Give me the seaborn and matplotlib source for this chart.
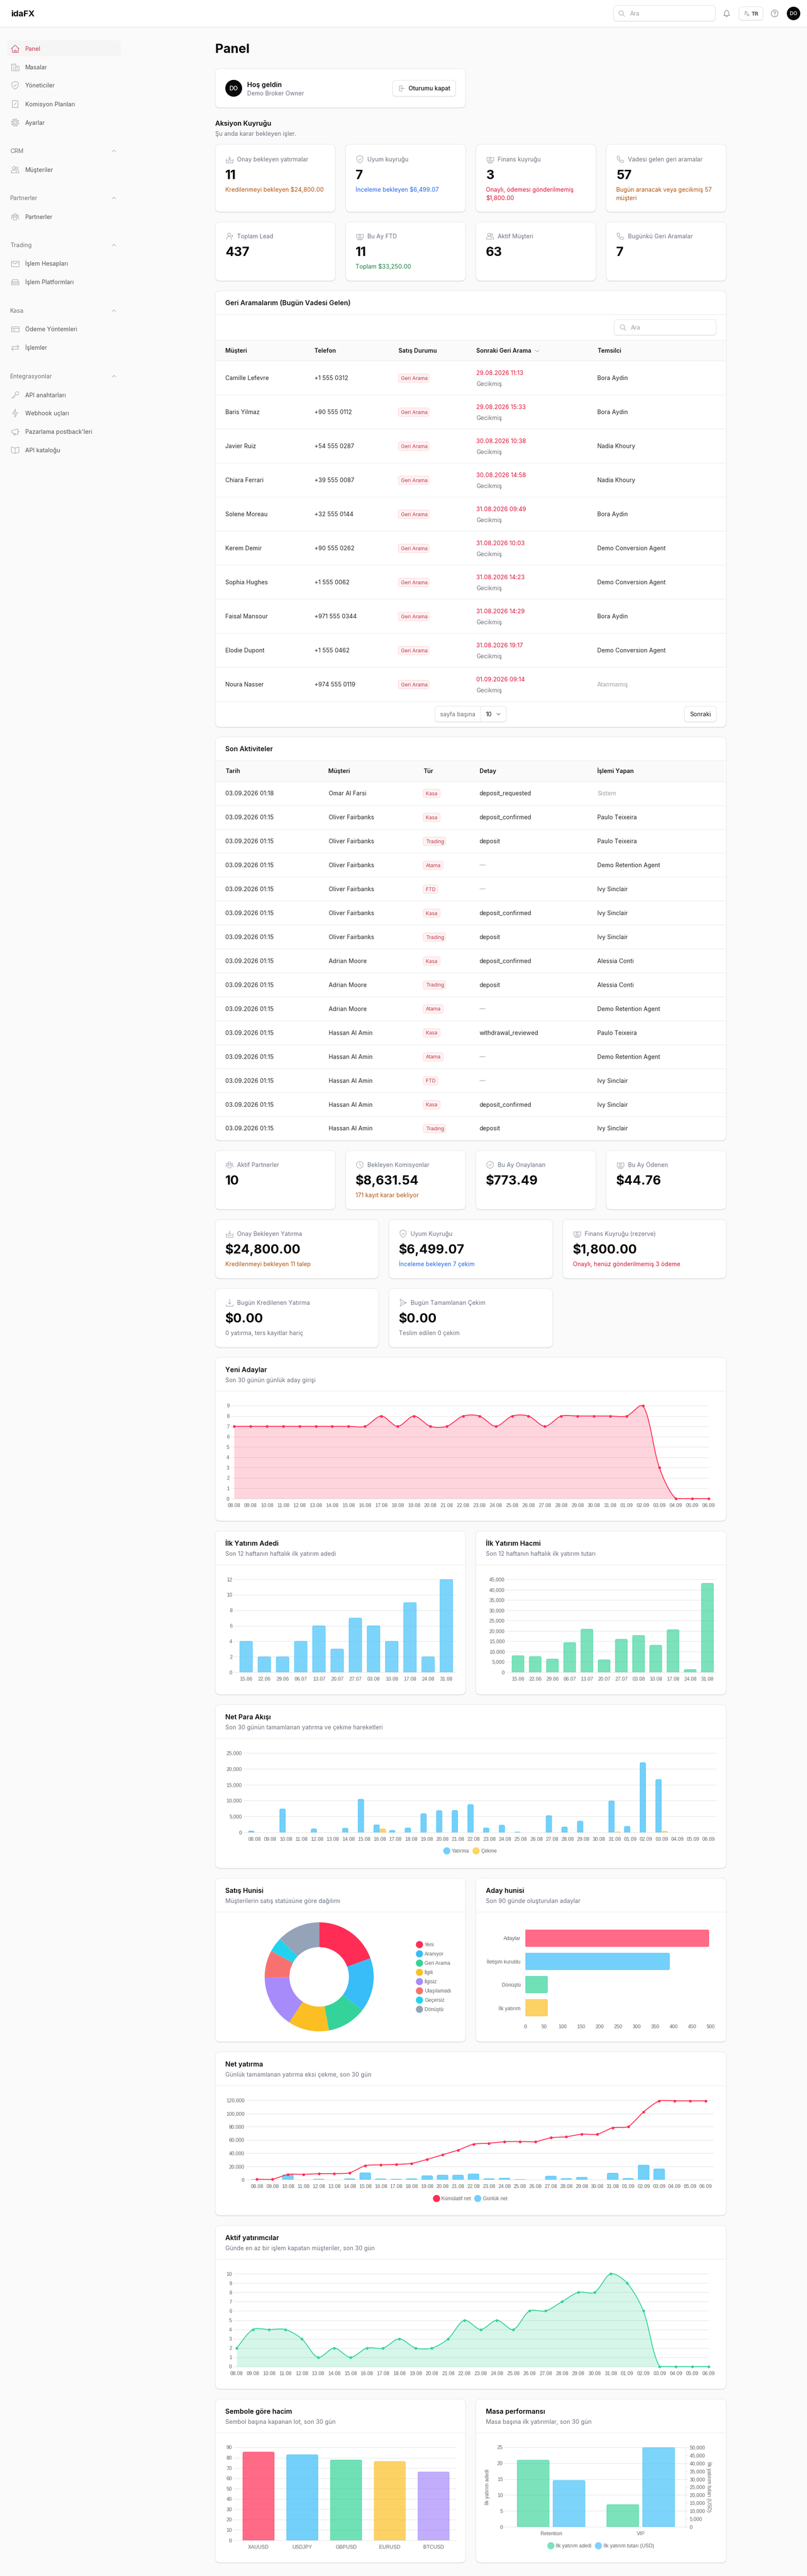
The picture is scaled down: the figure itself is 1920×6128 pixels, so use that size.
import numpy as np
import pandas as pd
import matplotlib
matplotlib.use("Agg")
import matplotlib.pyplot as plt
from matplotlib.patches import FancyBboxPatch, Circle, PathPatch, Rectangle
from matplotlib.path import Path
from matplotlib.ticker import FuncFormatter
import seaborn as sns

# ---------------- DATA ----------------
nav_groups = [
    (None, [("Panel", "home", 116), ("Masalar", "building", 159.5), ("Yöneticiler", "shield", 203),
            ("Komisyon Planları", "receipt", 248), ("Ayarlar", "gear", 291.5)]),
    (("CRM", 359), [("Müşteriler", "users", 403.6)]),
    (("Partnerler", 471), [("Partnerler", "partners", 515.6)]),
    (("Trading", 583), [("İşlem Hesapları", "wallet", 627), ("İşlem Platformları", "server", 671)]),
    (("Kasa", 739), [("Ödeme Yöntemleri", "card", 783), ("İşlemler", "arrows", 827)]),
    (("Entegrasyonlar", 895), [("API anahtarları", "key", 939.5), ("Webhook uçları", "bolt", 983),
                               ("Pazarlama postback'leri", "mega", 1027), ("API kataloğu", "book", 1071)]),
]
action_titles = ["Onay bekleyen yatırmalar", "Uyum kuyruğu", "Finans kuyruğu", "Vadesi gelen geri aramalar"]
action_values = ["11", "7", "3", "57"]
action_notes = [["Kredilenmeyi bekleyen $24,800.00"], ["İnceleme bekleyen $6,499.07"],
                ["Onaylı, ödemesi gönderilmemiş", "$1,800.00"], ["Bugün aranacak veya gecikmiş 57", "müşteri"]]
summary_titles = ["Toplam Lead", "Bu Ay FTD", "Aktif Müşteri", "Bugünkü Geri Aramalar"]
summary_values = ["437", "11", "63", "7"]
summary_notes = ["", "Toplam $33,250.00", "", ""]

t1_names = ["Camille Lefevre", "Baris Yilmaz", "Javier Ruiz", "Chiara Ferrari", "Solene Moreau", "Kerem Demir",
            "Sophia Hughes", "Faisal Mansour", "Elodie Dupont", "Noura Nasser"]
t1_phones = ["+1 555 0312", "+90 555 0112", "+54 555 0287", "+39 555 0087", "+32 555 0144", "+90 555 0262",
             "+1 555 0062", "+971 555 0344", "+1 555 0462", "+974 555 0119"]
t1_dates = ["29.08.2026 11:13", "29.08.2026 15:33", "30.08.2026 10:38", "30.08.2026 14:58", "31.08.2026 09:49",
            "31.08.2026 10:03", "31.08.2026 14:23", "31.08.2026 14:29", "31.08.2026 19:17", "01.09.2026 09:14"]
t1_reps = ["Bora Aydin", "Bora Aydin", "Nadia Khoury", "Nadia Khoury", "Bora Aydin", "Demo Conversion Agent",
           "Demo Conversion Agent", "Bora Aydin", "Demo Conversion Agent", "Atanmamış"]

t2_dates = ["03.09.2026 01:18"] + ["03.09.2026 01:15"] * 14
t2_names = ["Omar Al Farsi"] + ["Oliver Fairbanks"] * 6 + ["Adrian Moore"] * 3 + ["Hassan Al Amin"] * 5
t2_types = ["Kasa", "Kasa", "Trading", "Atama", "FTD", "Kasa", "Trading", "Kasa", "Trading", "Atama", "Kasa", "Atama",
            "FTD", "Kasa", "Trading"]
t2_details = ["deposit_requested", "deposit_confirmed", "deposit", "—", "—", "deposit_confirmed", "deposit",
              "deposit_confirmed", "deposit", "—", "withdrawal_reviewed", "—", "—", "deposit_confirmed", "deposit"]
t2_actors = ["Sistem", "Paulo Teixeira", "Paulo Teixeira", "Demo Retention Agent", "Ivy Sinclair", "Ivy Sinclair",
             "Ivy Sinclair", "Alessia Conti", "Alessia Conti", "Demo Retention Agent", "Paulo Teixeira",
             "Demo Retention Agent", "Ivy Sinclair", "Ivy Sinclair", "Ivy Sinclair"]

partner_titles = ["Aktif Partnerler", "Bekleyen Komisyonlar", "Bu Ay Onaylanan", "Bu Ay Ödenen"]
partner_values = ["10", "$8,631.54", "$773.49", "$44.76"]
finance_titles = ["Onay Bekleyen Yatırma", "Uyum Kuyruğu", "Finans Kuyruğu (rezerve)"]
finance_values = ["$24,800.00", "$6,499.07", "$1,800.00"]
finance_notes = ["Kredilenmeyi bekleyen 11 talep", "İnceleme bekleyen 7 çekim", "Onaylı, henüz gönderilmemiş 3 ödeme"]
today_titles = ["Bugün Kredilenen Yatırma", "Bugün Tamamlanan Çekim"]
today_values = ["$0.00", "$0.00"]
today_notes = ["0 yatırma, ters kayıtlar hariç", "Teslim edilen 0 çekim"]

days_a = ["08.08", "09.08", "10.08", "11.08", "12.08", "13.08", "14.08", "15.08", "16.08", "17.08", "18.08", "19.08",
          "20.08", "21.08", "22.08", "23.08", "24.08", "25.08", "26.08", "27.08", "28.08", "29.08", "30.08", "31.08",
          "01.09", "02.09", "03.09", "04.09", "05.09", "06.09"]
new_leads = [7, 7, 7, 7, 7, 7, 7, 7, 7, 8, 7, 8, 7, 7, 8, 8, 7, 8, 8, 7, 8, 8, 8, 8, 8, 9, 3, 0, 0, 0]

weeks = ["15.06", "22.06", "29.06", "06.07", "13.07", "20.07", "27.07", "03.08", "10.08", "17.08", "24.08", "31.08"]
ftd_count = [4, 2, 2, 4, 6, 3, 7, 6, 4, 9, 2, 12]
ftd_volume = [8000, 7600, 6400, 14400, 20900, 6050, 16000, 17850, 13100, 20600, 1350, 43100]

flow_in = [440, 0, 7400, 0, 1100, 0, 1320, 10450, 2380, 660, 1400, 5900, 6880, 6920, 8780, 1400, 2290, 130, 0, 5290,
           1720, 3570, 0, 9920, 1900, 21960, 16670, 0, 0, 0]
flow_out = [0, 0, 0, 0, 0, 0, 0, 0, 1100, 0, 0, 0, 0, 0, 0, 0, 0, 0, 0, 0, 0, 0, 0, 130, 0, 0, 350, 0, 0, 0]

sales_status = ["Yeni", "Aranıyor", "Geri Arama", "İlgili", "İlgisiz", "Ulaşılamadı", "Geçersiz", "Dönüştü"]
sales_count = [85, 70, 51, 53, 68, 35, 19, 56]
sales_colors = ["#FF2D55", "#38BDF8", "#34D399", "#FBBF24", "#A78BFA", "#F87171", "#22D3EE", "#94A3B8"]

funnel_stage = ["Adaylar", "İletişim kuruldu", "Dönüştü", "İlk yatırım"]
funnel_count = [495, 389, 60, 60]

net_cumulative = [500, 500, 7850, 7850, 8900, 8900, 10200, 21200, 22260, 22900, 24400, 30500, 37500, 44500, 53600,
                  54900, 57200, 57450, 57200, 63200, 64700, 68700, 68300, 78400, 79900, 102400, 118900, 118900,
                  118900, 118900]
net_daily = [400, 0, 7400, 0, 640, 0, 1320, 10300, 1200, 660, 1400, 5900, 6880, 6900, 8700, 1400, 2290, 130, 0, 5290,
             1700, 3570, 0, 9800, 1900, 21960, 16300, 0, 0, 0]

active_investors = [2, 4, 4, 4, 3, 1, 2, 1, 2, 2, 3, 2, 2, 3, 5, 4, 5, 4, 6, 6, 7, 8, 8, 10, 9, 6, 0, 0, 0, 0]

symbols = ["XAUUSD", "USDJPY", "GBPUSD", "EURUSD", "BTCUSD"]
symbol_lots = [85.5, 82.9, 77.8, 76.3, 66.2]

desks = ["Retention", "VIP"]
desk_count = [21, 7]
desk_amount = [29200, 50000]

# ---------------- STYLE ----------------
sns.set_theme(style="white")
UI = ["Inter", "DejaVu Sans"]
CF = "Liberation Sans"
plt.rcParams["font.family"] = UI
plt.rcParams["axes.unicode_minus"] = False

W, H = 1920, 6128
PAGE, BORDER, LINE, GRID, TICK = "#FAFAFA", "#E8E8E8", "#ECECEC", "#E4E4E4", "#666666"
INK, MID, MUTE, FAINT = "#18181B", "#6B7280", "#71717A", "#A1A1AA"
RED, BLUE, GREEN, YELLOW, PURPLE, ROSE = "#FF2D55", "#38BDF8", "#34D399", "#FBBF24", "#A78BFA", "#DC1437"
ORANGE, LINK, OK = "#B45309", "#2563EB", "#15803D"


def fs(px):
    return px * 0.72


fig = plt.figure(figsize=(W / 100, H / 100), dpi=100, facecolor=PAGE)
bg = fig.add_axes([0, 0, 1, 1], zorder=0)
bg.set_xlim(0, W)
bg.set_ylim(H, 0)
bg.axis("off")


def T(x, y, s, px=14, color=INK, weight="normal", ha="left", family=None, **kw):
    return bg.text(x, y + 0.36 * px, s, fontsize=fs(px), color=color, fontweight=weight, ha=ha, va="baseline",
                   family=family if family else UI, **kw)


def box(x0, y0, x1, y1, fc="white", ec=BORDER, r=12, lw=0.8, z=1):
    p = FancyBboxPatch((x0, y0), x1 - x0, y1 - y0, boxstyle=f"round,pad=0,rounding_size={r}", fc=fc, ec=ec, lw=lw,
                       zorder=z)
    bg.add_patch(p)
    return p


def input_box(x0, y0, x1, y1, r=8):
    box(x0, y0 + 1, x1, y1 + 1, fc="#E6E6E6", ec="#E6E6E6", r=r, z=2)
    box(x0, y0, x1, y1, ec="#E4E4E7", r=r, z=2.1)


def card(x0, y0, x1, y1):
    box(x0, y0 + 1.5, x1, y1 + 1.5, fc="#E3E3E3", ec="#E3E3E3", z=1)
    box(x0, y0, x1, y1, z=1.1)


def hline(x0, x1, y, color=LINE, lw=0.8, z=2):
    bg.plot([x0, x1], [y, y], color=color, lw=lw, zorder=z, solid_capstyle="butt")


def gear_pts():
    a = np.linspace(0, 2 * np.pi, 49)
    r = 0.78 + 0.18 * np.sign(np.sin(8 * a))
    return list(zip(r * np.cos(a), r * np.sin(a)))


ICONS = {
    "home": [[(-1, 0), (0, -.9), (1, 0)], [(-.75, -.15), (-.75, .85), (.75, .85), (.75, -.15)],
             [(-.25, .85), (-.25, .3), (.25, .3), (.25, .85)]],
    "building": [[(-.9, .9), (-.9, -.8), (.1, -.8), (.1, .9), (-.9, .9)], [(.1, -.3), (.9, -.3), (.9, .9), (.1, .9)],
                 [(-.6, -.45), (-.2, -.45)], [(-.6, 0), (-.2, 0)], [(-.6, .45), (-.2, .45)], [(.4, .1), (.65, .1)],
                 [(.4, .5), (.65, .5)]],
    "shield": [[(0, -1), (.8, -.65), (.8, .1), (.5, .65), (0, 1), (-.5, .65), (-.8, .1), (-.8, -.65), (0, -1)],
               [(-.3, 0), (-.05, .25), (.35, -.25)]],
    "receipt": [[(-.7, -.9), (.7, -.9), (.7, .9), (.35, .7), (0, .9), (-.35, .7), (-.7, .9), (-.7, -.9)],
                [(-.3, .2), (.3, -.4)]],
    "gear": [gear_pts(), ("c", 0, 0, .35)],
    "users": [("c", -.3, -.45, .36), ("c", .45, -.4, .28), [(-.95, .8), (-.95, .35), (-.6, .1), (0, .1), (.35, .35), (.35, .8), (-.95, .8)],
              [(.5, .1), (.85, .25), (.95, .6), (.95, .8), (.6, .8)]],
    "partners": [("c", 0, -.5, .3), ("c", -.62, -.2, .25), ("c", .62, -.2, .25),
                 [(-.4, .8), (-.4, .3), (-.1, .05), (.1, .05), (.4, .3), (.4, .8), (-.4, .8)],
                 [(-.95, .6), (-.95, .3), (-.6, .15)], [(.95, .6), (.95, .3), (.6, .15)]],
    "wallet": [[(-.9, -.65), (.9, -.65), (.9, .7), (-.9, .7), (-.9, -.65)],
               [(-.9, -.2), (-.35, -.2), (0, .1), (.35, -.2), (.9, -.2)]],
    "server": [[(-.9, -.05), (-.6, -.6), (.6, -.6), (.9, -.05), (-.9, -.05)],
               [(-.9, -.05), (-.9, .6), (.9, .6), (.9, -.05)], [(-.9, .25), (.9, .25)]],
    "card": [[(-.9, -.6), (.9, -.6), (.9, .6), (-.9, .6), (-.9, -.6)], [(-.9, -.2), (.9, -.2)], [(-.6, .25), (-.1, .25)]],
    "arrows": [[(-.9, -.3), (.9, -.3)], [(.5, -.7), (.9, -.3), (.5, .1)], [(.9, .35), (-.9, .35)], [(-.5, -.02), (-.9, .35), (-.5, .72)]],
    "key": [("c", .45, -.4, .42), [(.15, -.1), (-.9, .9), (-.9, .9)], [(-.55, .55), (-.3, .8)], [(-.3, .3), (-.05, .55)]],
    "bolt": [[(.1, -1), (-.65, .15), (0, .15), (-.1, 1), (.65, -.15), (0, -.15), (.1, -1)]],
    "mega": [[(-.85, -.25), (-.85, .25), (.7, .7), (.7, -.7), (-.85, -.25)], [(-.4, .35), (-.3, .85), (.05, .85), (-.05, .5)], [(.7, -.2), (.95, 0), (.7, .2)]],
    "book": [[(0, -.55), (-.95, -.8), (-.95, .55), (0, .8), (.95, .55), (.95, -.8), (0, -.55), (0, .8)]],
    "search": [("c", -.15, -.15, .65), [(.32, .32), (.9, .9)]],
    "bell": [[(-.75, .55), (-.55, .2), (-.55, -.3), (-.25, -.75), (0, -.85), (.25, -.75), (.55, -.3), (.55, .2), (.75, .55), (-.75, .55)], [(-.22, .62), (0, .9), (.22, .62)]],
    "lang": [[(-.9, -.6), (.1, -.6)], [(-.4, -.85), (-.4, -.6)], [(-.15, -.6), (-.45, .1), (-.85, .5)], [(-.7, -.3), (-.1, .3)], [(.0, .9), (.4, -.05), (.8, .9)], [(.15, .55), (.65, .55)]],
    "help": [("c", 0, 0, .9), [(-.25, -.25), (-.1, -.45), (.15, -.45), (.28, -.25), (0, .1), (0, .25)], [(0, .45), (0, .5)]],
    "inbox": [[(-.85, -.1), (-.85, .85), (.85, .85), (.85, -.1)], [(-.85, .3), (-.35, .3), (-.2, .55), (.2, .55), (.35, .3), (.85, .3)], [(0, -.9), (0, .1)], [(-.35, -.25), (0, .1), (.35, -.25)]],
    "phone": [[(-.85, -.75), (-.45, -.9), (-.15, -.35), (-.4, -.1), (.1, .4), (.4, .15), (.9, .45), (.75, .85), (.2, .85), (-.45, .35), (-.85, -.2), (-.85, -.75)]],
    "note": [[(-.9, -.55), (.9, -.55), (.9, .35), (-.9, .35), (-.9, -.55)], ("c", 0, -.1, .25), [(-.75, .65), (.75, .65)], [(-.55, .9), (.55, .9)]],
    "userplus": [("c", -.1, -.45, .4), [(-.75, .85), (-.75, .4), (-.35, .1), (.15, .1), (.5, .4), (.5, .85)], [(.65, -.4), (.65, .1)], [(.4, -.15), (.9, -.15)]],
    "clock": [("c", 0, 0, .9), [(0, -.5), (0, 0), (.35, .25)]],
    "check": [("c", 0, 0, .9), [(-.35, 0), (-.1, .3), (.4, -.3)]],
    "down": [[(0, -.95), (0, .35)], [(-.4, -.05), (0, .35), (.4, -.05)], [(-.85, .4), (-.85, .85), (.85, .85), (.85, .4)]],
    "send": [[(-.8, -.9), (.9, 0), (-.8, .9), (-.45, 0), (-.8, -.9)], [(-.45, 0), (.9, 0)]],
    "logout": [[(.1, -.85), (-.8, -.85), (-.8, .85), (.1, .85)], [(.9, 0), (-.25, 0)], [(.2, -.4), (-.25, 0), (.2, .4)]],
}


def icon(name, cx, cy, r=9, color="#9CA3AF", lw=0.8):
    for el in ICONS[name]:
        if isinstance(el, tuple):
            bg.add_patch(Circle((cx + el[1] * r, cy + el[2] * r), el[3] * r, fc="none", ec=color, lw=lw, zorder=3))
        else:
            a = np.array(el)
            bg.plot(cx + a[:, 0] * r, cy + a[:, 1] * r, color=color, lw=lw, zorder=3, solid_joinstyle="round")


def chevron(cx, cy, up=True, r=4, color=FAINT):
    s = -1 if up else 1
    bg.plot([cx - r, cx, cx + r], [cy - s * r / 2, cy + s * r / 2, cy - s * r / 2], color=color, lw=0.8, zorder=3)


# ---------------- PAGE CHROME ----------------
bg.add_patch(Rectangle((0, 0), W, 64, fc="white", ec="none", zorder=0.5))
hline(0, W, 64, color="#E5E7EB", lw=1)
T(27, 32, "idaFX", 20, "#09090B", "bold")
input_box(1460, 13, 1702, 50)
icon("search", 1479, 32, 8, "#9CA3AF")
T(1499, 32, "Ara", 14, FAINT, zorder=3)
icon("bell", 1729, 32, 9, "#71717A")
input_box(1758, 16, 1815, 48)
icon("lang", 1777, 32, 7, "#9CA3AF")
T(1788, 32, "TR", 13, "#3F3F46", "semibold", zorder=3)
icon("help", 1843, 32, 9, "#71717A")
bg.add_patch(Circle((1888, 32), 16, fc="#09090B", ec="none", zorder=3))
T(1888, 32, "DO", 12, "white", "medium", ha="center", zorder=4)

box(17, 96, 288, 134, fc="#F5F5F5", ec="none", r=8)
for head, items in nav_groups:
    if head:
        T(24, head[1], head[0], 14, MUTE)
        chevron(271, head[1])
    for label, ic, y in items:
        active = label == "Panel" and y < 120
        col = "#C0334D" if active else "#52525B"
        T(60, y, label, 14, col)
        icon(ic, 36, y, 9.5, col if active else "#A1A1AA")

T(512, 115, "Panel", 30, "#09090B", "bold")

# welcome
card(512, 163, 1108, 256)
bg.add_patch(Circle((556, 210), 20, fc="#09090B", ec="none", zorder=3))
T(556, 210, "DO", 14, "white", "medium", ha="center", zorder=4)
T(588, 201, "Hoş geldin", 16, "#09090B", "semibold", zorder=3)
T(588, 222, "Demo Broker Owner", 14, MID, zorder=3)
input_box(934, 191, 1084, 229)
icon("logout", 956, 210, 7, "#A1A1AA")
T(972, 210, "Oturumu kapat", 14, INK, "medium", zorder=3)

T(512, 293, "Aksiyon Kuyruğu", 16, "#09090B", "semibold")
T(512, 318, "Şu anda karar bekleyen işler.", 14, MID)


def stat_card(x0, y0, x1, y1, title, ic, value, notes, color, label_dy=36, r=9):
    card(x0, y0, x1, y1)
    icon(ic, x0 + 34, y0 + label_dy, r)
    T(x0 + 52, y0 + label_dy, title, 14, MID, zorder=3)
    T(x0 + 24, y0 + label_dy + 36, value, 30, "#09090B", "bold", zorder=3)
    for i, n in enumerate(notes):
        T(x0 + 24, y0 + label_dy + 72 + i * 20, n, 14, color, zorder=3)


col4 = [(512, 798), (822, 1108), (1132, 1418), (1442, 1728)]
a_ic = ["inbox", "shield", "note", "phone"]
a_col = [ORANGE, LINK, ROSE, ORANGE]
for i, (x0, x1) in enumerate(col4):
    stat_card(x0, 343, x1, 504, action_titles[i], a_ic[i], action_values[i], action_notes[i], a_col[i])
s_ic = ["userplus", "note", "users", "phone"]
for i, (x0, x1) in enumerate(col4):
    stat_card(x0, 528, x1, 668, summary_titles[i], s_ic[i], summary_values[i],
              [summary_notes[i]] if summary_notes[i] else [], OK, label_dy=34)


def badge(x, cy, text, w):
    box(x, cy - 10, x + w, cy + 10, fc="#FEF2F2", ec="#FBD5D9", r=5, z=2)
    T(x + 6, cy, text, 12, "#BE3A4D", zorder=3)


# table 1
card(512, 692, 1728, 1729.5)
T(536, 720, "Geri Aramalarım (Bugün Vadesi Gelen)", 16, INK, "semibold", zorder=3)
hline(512, 1728, 748)
input_box(1461, 760, 1704, 797)
icon("search", 1482, 779, 8)
T(1501, 779, "Ara", 14, FAINT, zorder=3)
bg.add_patch(Rectangle((512.5, 809), 1215, 49, fc=PAGE, ec="none", zorder=1.5))
hline(512, 1728, 809)
t1_x = [536, 747.5, 947.6, 1132.7, 1421]
for x, h in zip(t1_x, ["Müşteri", "Telefon", "Satış Durumu", "Sonraki Geri Arama", "Temsilci"]):
    T(x, 834, h, 14, INK, "semibold", zorder=3)
chevron(1278, 835, up=False, r=4.5)
for i in range(10):
    top = 858 + 81 * i
    hline(512, 1728, top)
    cy = top + 41
    T(t1_x[0], cy, t1_names[i], 14, "#27272A", zorder=3)
    T(t1_x[1], cy, t1_phones[i], 14, "#27272A", zorder=3)
    badge(t1_x[2], cy + 0.5, "Geri Arama", 73)
    T(t1_x[3], cy - 12, t1_dates[i], 14, ROSE, zorder=3)
    T(t1_x[3], cy + 14, "Gecikmiş", 14, MUTE, zorder=3)
    T(t1_x[4], cy, t1_reps[i], 14, FAINT if t1_reps[i] == "Atanmamış" else "#27272A", zorder=3)
hline(512, 1728, 1668.5)
input_box(1034.6, 1680, 1204.6, 1717)
bg.plot([1143, 1143], [1680, 1717], color=BORDER, lw=0.8, zorder=3)
T(1089, 1699, "sayfa başına", 14, MUTE, ha="center", zorder=3)
T(1163, 1699, "10", 14, INK, ha="center", zorder=3)
chevron(1186, 1699, up=False, color="#52525B")
input_box(1628.5, 1680, 1704.4, 1717)
T(1666.5, 1699, "Sonraki", 14, INK, ha="center", zorder=3)

# table 2
card(512, 1753, 1728, 2713)
T(536, 1781.5, "Son Aktiviteler", 16, INK, "semibold", zorder=3)
hline(512, 1728, 1809)
bg.add_patch(Rectangle((512.5, 1809), 1215, 49.6, fc=PAGE, ec="none", zorder=1.5))
t2_x = [536, 781.5, 1007, 1140.6, 1421]
for x, h in zip(t2_x, ["Tarih", "Müşteri", "Tür", "Detay", "İşlemi Yapan"]):
    T(x, 1834, h, 14, INK, "semibold", zorder=3)
bw = {"Kasa": 40, "Trading": 53, "Atama": 47, "FTD": 35}
for i in range(15):
    top = 1858.6 + 56.96 * i
    hline(512, 1728, top)
    cy = top + 28.4
    T(t2_x[0], cy, t2_dates[i], 14, "#27272A", zorder=3)
    T(t2_x[1], cy, t2_names[i], 14, "#27272A", zorder=3)
    badge(t2_x[2], cy + 0.5, t2_types[i], bw[t2_types[i]])
    T(t2_x[3], cy, t2_details[i], 14, FAINT if t2_details[i] == "—" else "#27272A", zorder=3)
    T(t2_x[4], cy, t2_actors[i], 14, FAINT if t2_actors[i] == "Sistem" else "#27272A", zorder=3)

# KPI cards
p_ic = ["partners", "clock", "check", "note"]
p_notes = [[], ["171 kayıt karar bekliyor"], [], []]
for i, (x0, x1) in enumerate(col4):
    stat_card(x0, 2737, x1, 2877, partner_titles[i], p_ic[i], partner_values[i], p_notes[i], ORANGE, label_dy=34)
col3 = [(512, 901), (925, 1315), (1339, 1728)]
f_ic = ["inbox", "shield", "note"]
f_col = [ORANGE, LINK, ROSE]
for i, (x0, x1) in enumerate(col3):
    stat_card(x0, 2901, x1, 3041, finance_titles[i], f_ic[i], finance_values[i], [finance_notes[i]], f_col[i], label_dy=34)
t_ic = ["down", "send"]
for i, (x0, x1) in enumerate(col3[:2]):
    stat_card(x0, 3065, x1, 3205, today_titles[i], t_ic[i], today_values[i], [today_notes[i]], MID, label_dy=34)


# ---------------- CHART HELPERS ----------------
def chart_card(x0, y0, x1, y1, title, sub):
    card(x0, y0, x1, y1)
    T(x0 + 24, y0 + 29, title, 16, "#09090B", "semibold", zorder=3)
    T(x0 + 24, y0 + 54, sub, 14, MID, zorder=3)
    hline(x0, x1, y0 + 80)


def make_ax(l, t, r, b, tick_px=8):
    ax = fig.add_axes([l / W, 1 - b / H, (r - l) / W, (b - t) / H], zorder=2)
    ax.patch.set_alpha(0)
    sns.despine(ax=ax, left=True, bottom=True)
    ax.grid(False)
    ax.yaxis.grid(True, color=GRID, lw=0.8)
    ax.set_axisbelow(True)
    ax.tick_params(axis="y", left=True, length=fs(tick_px), width=0.8, color=GRID, labelcolor=TICK, labelsize=fs(12),
                   pad=2.4, labelfontfamily=CF)
    ax.tick_params(axis="x", length=0, labelcolor=TICK, labelsize=fs(12), pad=8.2, labelfontfamily=CF)
    ax.set_xlabel("")
    ax.set_ylabel("")
    return ax


def finish(ax, xt, xl, yt, xlim, ylim, comma=False):
    ax.set_xlim(*xlim)
    ax.set_ylim(*ylim)
    ax.set_xticks(xt, xl)
    ax.set_yticks(yt)
    if comma:
        ax.yaxis.set_major_formatter(FuncFormatter(lambda v, _: f"{int(v):,}"))
    ax.set_xlabel("")
    ax.set_ylabel("")
    for g in ax.get_ygridlines():
        g.set_clip_on(False)


def round_bars(ax, r=3, horizontal=False):
    bb = ax.get_position()
    wpx, hpx = bb.width * W, bb.height * H
    x0, x1 = ax.get_xlim()
    y0, y1 = ax.get_ylim()
    ux, uy = abs(x1 - x0) / wpx, abs(y1 - y0) / hpx
    for p in list(ax.patches):
        if not isinstance(p, Rectangle):
            continue
        x, y, w, h = p.get_x(), p.get_y(), p.get_width(), p.get_height()
        fc, z = p.get_facecolor(), p.get_zorder()
        p.remove()
        if w == 0 or h == 0:
            continue
        ec = (fc[0], fc[1], fc[2], min(1, fc[3] + 0.1))
        if horizontal:
            dx, dy = min(r * ux, w), r * uy
            ya, yb = min(y, y + h), max(y, y + h)
            v = [(x, ya), (x + w - dx, ya), (x + w, ya), (x + w, ya + dy), (x + w, yb - dy), (x + w, yb),
                 (x + w - dx, yb), (x, yb), (x, ya)]
        else:
            dx, dy = r * ux, min(r * uy, h)
            v = [(x, y), (x, y + h - dy), (x, y + h), (x + dx, y + h), (x + w - dx, y + h), (x + w, y + h),
                 (x + w, y + h - dy), (x + w, y), (x, y)]
        c = [Path.MOVETO, Path.LINETO, Path.CURVE3, Path.CURVE3, Path.LINETO, Path.CURVE3, Path.CURVE3, Path.LINETO,
             Path.CLOSEPOLY]
        ax.add_patch(PathPatch(Path(v, c), fc=fc, ec=ec, lw=0.7, zorder=z))


def spline(ax, ys, tension, steps=24):
    """Chart.js style bezier through the data points, computed in pixel proportions."""
    bb = ax.get_position()
    n = len(ys)
    x0, x1 = ax.get_xlim()
    sx = bb.width * W / (x1 - x0)
    y0, y1 = ax.get_ylim()
    sy = bb.height * H / (y1 - y0)
    P = np.column_stack([np.arange(n) * sx, np.asarray(ys, float) * sy])
    out = []
    for i in range(n - 1):
        a, b = P[i], P[i + 1]
        pa = P[max(i - 1, 0)]
        nb = P[min(i + 2, n - 1)]
        da, db, dc = np.linalg.norm(a - pa), np.linalg.norm(b - a), np.linalg.norm(nb - b)
        fa = tension * db / (da + db) if da + db else 0
        fb = tension * db / (db + dc) if db + dc else 0
        c1 = a + fa * (b - pa)
        c2 = b - fb * (nb - a)
        t = np.linspace(0, 1, steps)[:, None]
        out.append((1 - t) ** 3 * a + 3 * (1 - t) ** 2 * t * c1 + 3 * (1 - t) * t ** 2 * c2 + t ** 3 * b)
    C = np.vstack(out)
    return C[:, 0] / sx, np.clip(C[:, 1] / sy, y0, y1)


def draw_line(ax, ys, color, tension=0.3, fill=True):
    xs, yy = spline(ax, ys, tension)
    if fill:
        ax.fill_between(xs, yy, 0, color=color, alpha=0.2, lw=0, zorder=2)
    sns.lineplot(x=xs, y=yy, color=color, linewidth=1.5, estimator=None, sort=False, clip_on=False, zorder=4, ax=ax,
                 legend=False)
    sns.scatterplot(x=np.arange(len(ys)), y=ys, color=color, s=22, linewidth=0, clip_on=False, zorder=5, ax=ax,
                    legend=False)
    ax.set_xlabel("")
    ax.set_ylabel("")


def legend_items(items, cy):
    for cx, tx, label, color in items:
        bg.add_patch(Circle((cx, cy), 8.5, fc=color, ec="none", zorder=3))
        T(tx, cy, label, 12, TICK, family=CF, zorder=3)


# ---------------- CHARTS ----------------
idx30 = np.arange(30)

# Yeni Adaylar
chart_card(512, 3229, 1728, 3618, "Yeni Adaylar", "Son 30 günün günlük aday girişi")
ax = make_ax(557, 3344, 1685.5, 3565)
finish(ax, idx30, days_a, range(0, 10), (0, 29), (0, 9))
draw_line(ax, new_leads, RED)

# Ilk yatirim adedi
chart_card(512, 3642, 1108, 4031, "İlk Yatırım Adedi", "Son 12 haftanın haftalık ilk yatırım adedi")
ax = make_ax(564, 3757, 1083.6, 3978)
sns.barplot(x=np.arange(12), y=ftd_count, native_scale=True, color=BLUE, saturation=1, alpha=0.65, width=0.7,
            errorbar=None, ax=ax)
finish(ax, np.arange(12), weeks, range(0, 13, 2), (-0.5, 11.5), (0, 12))
round_bars(ax)

# Ilk yatirim hacmi
chart_card(1132, 3642, 1728, 4031, "İlk Yatırım Hacmi", "Son 12 haftanın haftalık ilk yatırım tutarı")
ax = make_ax(1212, 3757, 1703.6, 3978)
sns.barplot(x=np.arange(12), y=ftd_volume, native_scale=True, color=GREEN, saturation=1, alpha=0.65, width=0.7,
            errorbar=None, ax=ax)
finish(ax, np.arange(12), weeks, range(0, 45001, 5000), (-0.5, 11.5), (0, 45000), comma=True)
round_bars(ax)

# Net Para Akisi
chart_card(512, 4055, 1728, 4444, "Net Para Akışı", "Son 30 günün tamamlanan yatırma ve çekme hareketleri")
ax = make_ax(586.6, 4170, 1704.6, 4359)
flow = pd.DataFrame({"g": np.tile(idx30, 2), "v": flow_in + flow_out, "s": ["Yatırma"] * 30 + ["Çekme"] * 30})
sns.barplot(data=flow, x="g", y="v", hue="s", hue_order=["Yatırma", "Çekme"], palette=[BLUE, YELLOW], native_scale=True,
            saturation=1, alpha=0.7, width=0.8, gap=0.1, errorbar=None, legend=False, ax=ax)
finish(ax, idx30, days_a, range(0, 25001, 5000), (-0.5, 29.5), (0, 25000), comma=True)
round_bars(ax)
legend_items([(1063, 1075, "Yatırma", "#74D0FA"), (1132.6, 1144.5, "Çekme", "#FDD466")], 4403)

# Satis Hunisi
chart_card(512, 4468, 1108, 4857, "Satış Hunisi", "Müşterilerin satış statüsüne göre dağılımı")
R = 129.7
ax = fig.add_axes([(759.4 - R) / W, 1 - (4702.7 + R) / H, 2 * R / W, 2 * R / H], zorder=2)
ax.pie(sales_count, colors=sales_colors, startangle=90, counterclock=False, radius=1,
       wedgeprops=dict(width=1 - 70.8 / R, linewidth=0))
ax.set_xlim(-1, 1)
ax.set_ylim(-1, 1)
ax.set_aspect("equal")
for i, (lab, c) in enumerate(zip(sales_status, sales_colors)):
    yy = 4626 + 22 * i
    bg.add_patch(Circle((998, yy), 8.5, fc=c, ec="none", zorder=3))
    T(1010, yy, lab, 12, TICK, family=CF, zorder=3)

# Aday hunisi
chart_card(1132, 4468, 1728, 4857, "Aday hunisi", "Son 90 günde oluşturulan adaylar")
ax = make_ax(1249.7, 4583.3, 1691, 4803.7)
sns.barplot(x=funnel_count, y=np.arange(4), hue=funnel_stage, palette=[RED, BLUE, GREEN, YELLOW], orient="y",
            native_scale=True, dodge=False, saturation=1, alpha=0.7, width=0.72, errorbar=None, legend=False, ax=ax)
ax.set_xlim(0, 500)
ax.set_ylim(3.5, -0.5)
ax.set_yticks(np.arange(4), funnel_stage)
ax.set_xticks(range(0, 501, 50))
ax.set_xlabel("")
ax.set_ylabel("")
ax.yaxis.grid(False)
ax.tick_params(axis="y", length=0, pad=8)
ax.tick_params(axis="x", pad=8.6)
round_bars(ax, horizontal=True)

# Net yatirma
chart_card(512, 4881, 1728, 5270, "Net yatırma", "Günlük tamamlanan yatırma eksi çekme, son 30 gün")
ax = make_ax(593, 4996, 1697, 5185)
sns.barplot(x=idx30, y=net_daily, native_scale=True, color=BLUE, saturation=1, alpha=0.7, width=0.71, errorbar=None, ax=ax)
finish(ax, idx30, days_a, range(0, 120001, 20000), (-0.5, 29.5), (0, 120000), comma=True)
round_bars(ax)
draw_line(ax, net_cumulative, RED, tension=0.2, fill=False)
legend_items([(1038.6, 1050.4, "Kümülatif net", RED), (1136.6, 1149, "Günlük net", "#74D0FA")], 5230)

# Aktif yatirimcilar
chart_card(512, 5294, 1728, 5683, "Aktif yatırımcılar", "Günde en az bir işlem kapatan müşteriler, son 30 gün")
ax = make_ax(563, 5409, 1685.5, 5630)
finish(ax, idx30, days_a, range(0, 11), (0, 29), (0, 10))
draw_line(ax, active_investors, GREEN)

# Sembole gore hacim
chart_card(512, 5707, 1108, 6096, "Sembole göre hacim", "Sembol başına kapanan lot, son 30 gün")
ax = make_ax(563, 5822, 1083.6, 6043)
sns.barplot(x=np.arange(5), y=symbol_lots, hue=symbols, palette=[RED, BLUE, GREEN, YELLOW, PURPLE], native_scale=True,
            dodge=False, saturation=1, alpha=0.7, width=0.715, errorbar=None, legend=False, ax=ax)
finish(ax, np.arange(5), symbols, range(0, 91, 10), (-0.5, 4.5), (0, 90))
round_bars(ax)

# Masa performansi
chart_card(1132, 5707, 1728, 6096, "Masa performansı", "Masa başına ilk yatırımlar, son 30 gün")
ax = make_ax(1204.6, 5822, 1631, 6011, tick_px=5)
sns.barplot(x=np.arange(2) - 0.2, y=desk_count, native_scale=True, color=GREEN, saturation=1, alpha=0.65, width=0.357,
            errorbar=None, ax=ax)
finish(ax, np.arange(2), desks, range(0, 26, 5), (-0.5, 1.5), (0, 25))
round_bars(ax)
ax.set_ylabel("İlk yatırım adedi", fontsize=fs(12), color=TICK, family=CF)
ax.yaxis.set_label_coords((1166 - 1204.6) / (1631 - 1204.6), 0.5)
ax2 = ax.twinx()
ax2.patch.set_alpha(0)
sns.despine(ax=ax2, left=True, bottom=True, right=False)
ax2.spines["right"].set_color(GRID)
ax2.spines["right"].set_linewidth(0.8)
ax2.grid(False)
sns.barplot(x=np.arange(2) + 0.2, y=desk_amount, native_scale=True, color=BLUE, saturation=1, alpha=0.65, width=0.357,
            errorbar=None, ax=ax2)
ax2.set_xlim(-0.5, 1.5)
ax2.set_xticks(np.arange(2), desks)
ax2.set_ylim(0, 50000)
ax2.set_yticks(range(0, 50001, 5000))
ax2.yaxis.set_major_formatter(FuncFormatter(lambda v, _: f"{int(v):,}"))
ax2.yaxis.tick_right()
ax2.tick_params(axis="y", right=True, length=fs(6), width=0.8, color=GRID, labelcolor=TICK, labelsize=fs(12), pad=2.4,
                labelfontfamily=CF)
ax2.set_xlabel("")
ax2.set_ylabel("İlk yatırım tutarı (USD)", fontsize=fs(12), color=TICK, family=CF, rotation=-90)
ax2.yaxis.set_label_coords((1694 - 1204.6) / (1631 - 1204.6), 0.5)
round_bars(ax2)
legend_items([(1310.6, 1322.5, "İlk yatırım adedi", "#7BE2BD"), (1423.7, 1435.6, "İlk yatırım tutarı (USD)", "#7DD3FC")], 6056)

fig.savefig("out.png", dpi=100, facecolor=PAGE)
